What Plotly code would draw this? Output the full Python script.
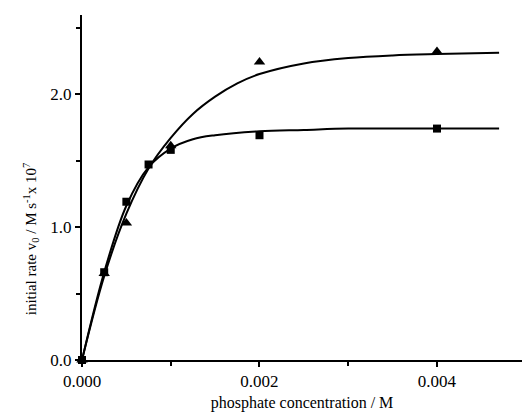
import plotly.graph_objects as go

# measured data points
tri_x = [0.0, 0.00025, 0.0005, 0.001, 0.002, 0.004]
tri_y = [0.0, 0.65, 1.03, 1.61, 2.24, 2.32]
sq_x = [0.0, 0.00025, 0.0005, 0.00075, 0.001, 0.002, 0.004]
sq_y = [0.0, 0.66, 1.19, 1.47, 1.58, 1.69, 1.74]

# fitted curves
tri_curve_x = [0.0, 0.00025, 0.0005, 0.00075, 0.001, 0.00125, 0.0015, 0.00175, 0.002,
               0.0025, 0.003, 0.0035, 0.004, 0.0047]
tri_curve_y = [0.0, 0.63, 1.10, 1.44, 1.67, 1.85, 1.98, 2.08, 2.15,
               2.23, 2.27, 2.29, 2.30, 2.31]
sq_curve_x = [0.0, 0.00025, 0.0005, 0.00075, 0.001, 0.00125, 0.0015, 0.002,
              0.0025, 0.003, 0.004, 0.0047]
sq_curve_y = [0.0, 0.66, 1.16, 1.45, 1.59, 1.66, 1.69, 1.72,
              1.73, 1.74, 1.74, 1.74]

x_ticks = [0.0, 0.002, 0.004]
x_tick_labels = ["0.000", "0.002", "0.004"]
y_ticks = [0.0, 1.0, 2.0]
y_tick_labels = ["0.0", "1.0", "2.0"]

FONT = "Liberation Serif, Times New Roman, serif"

fig = go.Figure()
fig.add_trace(go.Scatter(x=tri_curve_x, y=tri_curve_y, mode="lines",
                         line=dict(color="black", width=2, shape="spline"),
                         cliponaxis=False, showlegend=False))
fig.add_trace(go.Scatter(x=sq_curve_x, y=sq_curve_y, mode="lines",
                         line=dict(color="black", width=2, shape="spline"),
                         cliponaxis=False, showlegend=False))
fig.add_trace(go.Scatter(x=tri_x, y=tri_y, mode="markers",
                         marker=dict(symbol="triangle-up", size=10, color="black"),
                         cliponaxis=False, showlegend=False))
fig.add_trace(go.Scatter(x=sq_x, y=sq_y, mode="markers",
                         marker=dict(symbol="square", size=8, color="black"),
                         cliponaxis=False, showlegend=False))

fig.update_layout(
    width=524, height=415,
    margin=dict(l=82, r=2, t=15, b=55),
    paper_bgcolor="white", plot_bgcolor="white",
    font=dict(family=FONT, size=17, color="black"),
    xaxis=dict(
        range=[0, 0.004958], showgrid=False, zeroline=False,
        showline=True, linecolor="black", linewidth=2,
        tickmode="array", tickvals=x_ticks, ticktext=x_tick_labels,
        ticks="outside", ticklen=5, tickwidth=2, tickcolor="black",
        tickfont=dict(family=FONT, size=17),
        minor=dict(tickmode="array", tickvals=[0.001, 0.003], ticks="outside",
                   ticklen=4, tickwidth=2, tickcolor="black"),
        title=dict(text="phosphate concentration / M", standoff=6,
                   font=dict(family=FONT, size=16)),
    ),
    yaxis=dict(
        range=[0, 2.594], showgrid=False, zeroline=False,
        showline=True, linecolor="black", linewidth=2,
        tickmode="array", tickvals=y_ticks, ticktext=y_tick_labels,
        ticks="outside", ticklen=5, tickwidth=2, tickcolor="black",
        tickfont=dict(family=FONT, size=17),
        minor=dict(tickmode="array", tickvals=[0.5, 1.5, 2.5], ticks="outside",
                   ticklen=4, tickwidth=2, tickcolor="black"),
    ),
    annotations=[dict(
        text="initial rate v<sub>0</sub> / M s<sup>-1</sup>x 10<sup>7</sup>",
        xref="paper", yref="paper", x=0, y=0.35, xanchor="center", yanchor="middle",
        xshift=-51, textangle=-90, showarrow=False,
        font=dict(family=FONT, size=15, color="black"),
    )],
)

fig.write_html("out.html")
